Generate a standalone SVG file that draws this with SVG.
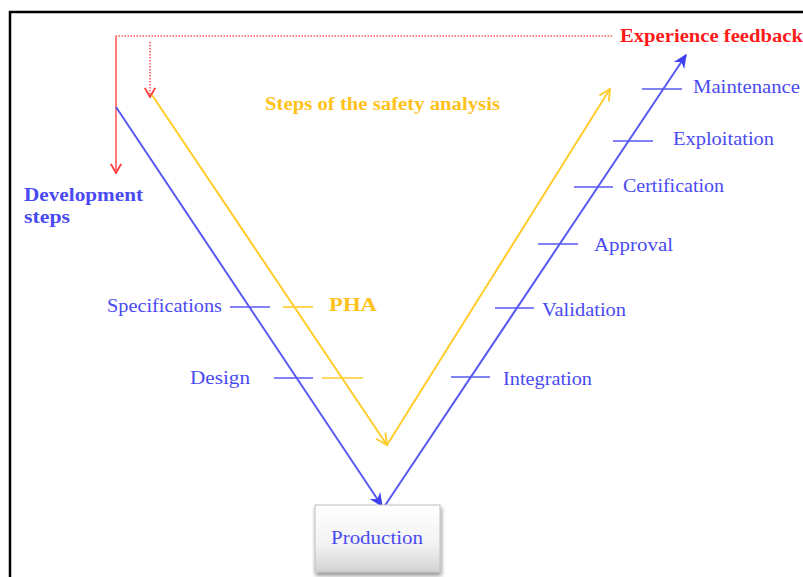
<svg xmlns="http://www.w3.org/2000/svg" width="803" height="577" viewBox="0 0 803 577">
<style>
.lbl{font-family:"Liberation Serif","Times New Roman",serif;font-size:18px;fill:#4a4af2}
.bold{font-weight:bold}
.blue{stroke:#5858f5;stroke-width:2;fill:none}
.yel{stroke:#ffcd2a;stroke-width:2;fill:none}
.red{stroke:#ff5a5a;stroke-width:1.6;fill:none}
.tick{stroke-width:1.6}
</style>
<defs>
<linearGradient id="boxg" x1="0" y1="0" x2="0" y2="1">
<stop offset="0" stop-color="#ffffff"/>
<stop offset="0.6" stop-color="#f2f2f2"/>
<stop offset="1" stop-color="#d2d2d2"/>
</linearGradient>
<filter id="sh" x="-10%" y="-10%" width="130%" height="130%">
<feGaussianBlur in="SourceAlpha" stdDeviation="2"/>
<feOffset dx="1" dy="3"/>
<feComponentTransfer><feFuncA type="linear" slope="0.45"/></feComponentTransfer>
<feMerge><feMergeNode/><feMergeNode in="SourceGraphic"/></feMerge>
</filter>
<marker id="openRed" viewBox="0 0 10 10" refX="9" refY="5" markerWidth="13" markerHeight="13" orient="auto" markerUnits="userSpaceOnUse">
<path d="M2,1 L9,5 L2,9" fill="none" stroke="#ff3a3a" stroke-width="1.4"/>
</marker>
<marker id="openYel" viewBox="0 0 10 10" refX="9" refY="5" markerWidth="14" markerHeight="14" orient="auto" markerUnits="userSpaceOnUse">
<path d="M1,1 L9,5 L1,9" fill="none" stroke="#ffcd2a" stroke-width="1.3"/>
</marker>
<marker id="fillBlue" viewBox="0 0 10 10" refX="9" refY="5" markerWidth="14" markerHeight="14" orient="auto" markerUnits="userSpaceOnUse">
<path d="M0,0.5 L10,5 L0,9.5 L3,5 Z" fill="#4040f0"/>
</marker>
</defs>
<rect x="0" y="0" width="803" height="577" fill="#ffffff"/>
<g id="frame">
<path d="M10,577 L10,12 L803,12" fill="none" stroke="#000" stroke-width="2.5"/>
</g>
<g id="connectors">
<path class="red" d="M612,36 L116,36" stroke-dasharray="1.5,1.5"/>
<path class="red" d="M116,36 L116,173" marker-end="url(#openRed)"/>
<path class="red" d="M150,42 L150,97" stroke-dasharray="1.5,1.5" marker-end="url(#openRed)"/>
<path class="blue" d="M116,107 L382,506" marker-end="url(#fillBlue)"/>
<path class="blue" d="M384,507 L686,55" marker-end="url(#fillBlue)"/>
<path class="yel" d="M152,95 L387,445" marker-end="url(#openYel)"/>
<path class="yel" d="M387,445 L610,89" marker-end="url(#openYel)"/>
<g class="blue tick">
<path d="M230,307 H270"/>
<path d="M274,378 H313"/>
<path d="M451,377 H490"/>
<path d="M495,308 H534"/>
<path d="M538,244 H578"/>
<path d="M574,187 H613"/>
<path d="M613,141 H653"/>
<path d="M642,89 H682"/>
</g>
<g class="yel tick">
<path d="M283,307 H313"/>
<path d="M322,378 H363"/>
</g>
</g>
<g id="experience-feedback">
<text class="lbl bold" x="620" y="42" style="fill:#ff1a1a" textLength="183" lengthAdjust="spacingAndGlyphs">Experience feedback</text>
</g>
<g id="safety-steps">
<text class="lbl bold" x="265" y="110" style="fill:#ffc21a" textLength="235" lengthAdjust="spacingAndGlyphs">Steps of the safety analysis</text>
</g>
<g id="development-steps">
<text class="lbl bold" x="24" y="201" textLength="119" lengthAdjust="spacingAndGlyphs">Development</text>
<text class="lbl bold" x="24" y="223" textLength="46" lengthAdjust="spacingAndGlyphs">steps</text>
</g>
<g id="specifications"><text class="lbl" x="107" y="312" textLength="115" lengthAdjust="spacingAndGlyphs">Specifications</text></g>
<g id="design"><text class="lbl" x="190" y="384" textLength="60" lengthAdjust="spacingAndGlyphs">Design</text></g>
<g id="pha"><text class="lbl bold" x="329" y="311" style="fill:#ffc21a" textLength="48" lengthAdjust="spacingAndGlyphs">PHA</text></g>
<g id="integration"><text class="lbl" x="503" y="385" textLength="89" lengthAdjust="spacingAndGlyphs">Integration</text></g>
<g id="validation"><text class="lbl" x="542" y="316" textLength="84" lengthAdjust="spacingAndGlyphs">Validation</text></g>
<g id="approval"><text class="lbl" x="594" y="251" textLength="79" lengthAdjust="spacingAndGlyphs">Approval</text></g>
<g id="certification"><text class="lbl" x="623" y="192" textLength="101" lengthAdjust="spacingAndGlyphs">Certification</text></g>
<g id="exploitation"><text class="lbl" x="673" y="145" textLength="101" lengthAdjust="spacingAndGlyphs">Exploitation</text></g>
<g id="maintenance"><text class="lbl" x="693" y="93" textLength="107" lengthAdjust="spacingAndGlyphs">Maintenance</text></g>
<g id="production">
<rect x="315" y="505" width="125" height="67" fill="url(#boxg)" stroke="#c0c0c0" stroke-width="1" filter="url(#sh)"/>
<text class="lbl" x="331" y="544" textLength="92" lengthAdjust="spacingAndGlyphs">Production</text>
</g>
</svg>
